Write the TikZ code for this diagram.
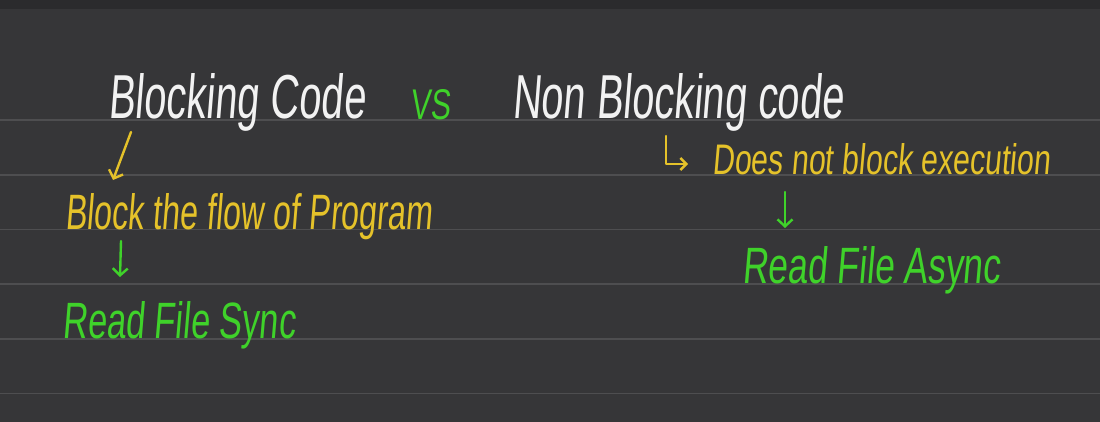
\documentclass[tikz,border=0pt]{standalone}
\usepackage{fontspec}
\usetikzlibrary{arrows.meta}
\newfontfamily\hand{Liberation Sans}[FakeStretch=0.8,FakeSlant=0.1]
\definecolor{bg}{HTML}{363638}
\definecolor{topbar}{HTML}{2B2B2D}
\definecolor{ruling}{HTML}{4E4E50}
\definecolor{chalkwhite}{HTML}{F2F2F2}
\definecolor{chalkgreen}{HTML}{3FD22A}
\definecolor{chalkyellow}{HTML}{E5C22A}
\newcommand{\fitwh}[3]{\resizebox{#1}{#2}{\hand #3}}
\begin{document}
\begin{tikzpicture}[x=1pt,y=-1pt,
  txt/.style={inner sep=0pt, anchor=base west},
  handarrow/.style={line width=2.4pt, line cap=round, line join=round,
    -{Straight Barb[length=7pt,width=15pt]}},
  ruleline/.style={ruling, line width=1.8pt}]
\useasboundingbox (0,0) rectangle (1100,421);
\fill[bg] (-5,-5) rectangle (1105,426);
\fill[topbar] (-5,-5) rectangle (1105,9);
\foreach \yy in {120,175,229.5,284,339,393.5}
  \draw[ruleline] (-5,\yy) -- (1105,\yy);

% titles
\node[txt, text=chalkwhite] (blk) at (108,118) {\fitwh{257pt}{45pt}{Blocking Code}};
\node[txt, text=chalkgreen] (vs) at (410,119) {\fitwh{40pt}{30pt}{VS}};
\node[txt, text=chalkwhite] (nblk) at (512,118) {\fitwh{331pt}{45pt}{Non Blocking code}};

% left column
\node[txt, text=chalkyellow] (flow) at (65,229) {\fitwh{367pt}{36pt}{Block the flow of Program}};
\node[txt, text=chalkgreen] (sync) at (62,338) {\fitwh{233pt}{37pt}{Read File Sync}};

% right column
\node[txt, text=chalkyellow] (nob) at (712,174) {\fitwh{338pt}{31pt}{Does not block execution}};
\node[txt, text=chalkgreen] (async) at (742,283) {\fitwh{258pt}{37pt}{Read File Async}};

% arrow end points
\coordinate (a1s) at (131,132);
\coordinate (a1e) at (113,180);
\coordinate (a2s) at (121,241);
\coordinate (a2e) at (120,277);
\coordinate (h1) at (666,136);
\coordinate (h2) at (688,164);
\coordinate (a3s) at (785,192);
\coordinate (a3e) at (785,228);

\draw[handarrow, chalkyellow] (a1s) -- (a1e);
\draw[handarrow, chalkgreen] (a2s) -- (a2e);
\draw[handarrow, chalkyellow, -{Straight Barb[length=6pt,width=12pt]}] (h1) |- (h2);
\draw[handarrow, chalkgreen] (a3s) -- (a3e);
\end{tikzpicture}
\end{document}
